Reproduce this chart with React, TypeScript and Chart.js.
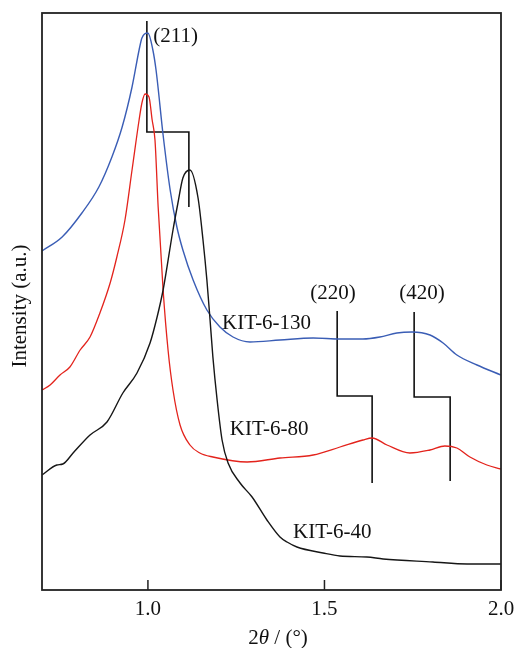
import { useEffect, useRef } from "react";
import { Chart, registerables } from "chart.js";
Chart.register(...registerables);

// 2θ (°) and intensity (a.u.) for each sample
const kit130X = [0.7, 0.757, 0.813, 0.861, 0.898, 0.927, 0.955, 0.975, 0.983, 1.0, 1.014, 1.023, 1.043, 1.063, 1.082, 1.099, 1.128, 1.167, 1.204, 1.241, 1.289, 1.374, 1.468, 1.544, 1.609, 1.657, 1.705, 1.748, 1.799, 1.836, 1.875, 1.932, 2.0];
const kit130Y = [339, 353, 377, 403, 433, 463, 503, 540, 552, 557, 540, 520, 455, 400, 363, 340, 310, 280, 263, 253, 248, 250, 252, 251, 251, 253, 257, 258, 255, 247, 235, 225, 215];

const kit80X = [0.7, 0.723, 0.751, 0.779, 0.808, 0.836, 0.864, 0.893, 0.912, 0.935, 0.955, 0.975, 0.983, 0.992, 1.003, 1.012, 1.02, 1.029, 1.043, 1.057, 1.071, 1.091, 1.119, 1.147, 1.184, 1.281, 1.374, 1.468, 1.544, 1.609, 1.635, 1.677, 1.742, 1.799, 1.841, 1.875, 1.912, 1.96, 2.0];
const kit80Y = [200, 205, 215, 223, 240, 253, 277, 307, 333, 370, 420, 470, 487, 496, 493, 470, 450, 383, 300, 240, 200, 165, 145, 137, 133, 128, 132, 135, 143, 150, 152, 145, 137, 140, 144, 142, 133, 125, 121];

const kit40X = [0.7, 0.742, 0.759, 0.788, 0.836, 0.884, 0.929, 0.969, 1.006, 1.026, 1.043, 1.071, 1.085, 1.099, 1.119, 1.142, 1.156, 1.167, 1.176, 1.184, 1.196, 1.21, 1.227, 1.261, 1.295, 1.337, 1.374, 1.394, 1.422, 1.496, 1.544, 1.62, 1.666, 1.807, 1.904, 2.0];
const kit40Y = [115, 125, 126, 137, 155, 168, 197, 217, 247, 273, 300, 360, 387, 412, 420, 392, 350, 310, 270, 233, 190, 150, 127, 107, 93, 70, 53, 48, 43, 37, 34, 33, 31, 28, 26, 26];

// reflection index markers: [x top, x bottom], [y top, y step, y bottom]
const peak211X = [0.997, 1.116];
const peak211Y = [569, 458, 383];
const peak220X = [1.536, 1.635];
const peak220Y = [279, 194, 107];
const peak420X = [1.754, 1.856];
const peak420Y = [278, 193, 109];

const xTicks = [1.0, 1.5, 2.0];
const xMin = 0.7;
const xMax = 2.0;

const FONT = '"Liberation Serif", "Times New Roman", serif';

function pts(xs: number[], ys: number[]) {
  return xs.map((x, i) => ({ x, y: ys[i] }));
}
function bracket(xs: number[], ys: number[]) {
  return [
    { x: xs[0], y: ys[0] },
    { x: xs[0], y: ys[1] },
    { x: xs[1], y: ys[1] },
    { x: xs[1], y: ys[2] },
  ];
}

export default function App() {
  const ref = useRef<HTMLCanvasElement | null>(null);
  useEffect(() => {
    if (!ref.current) return;
    const textLabels = [
      { t: "(211)", x: 1.015, y: 554, align: "left" },
      { t: "(220)", x: 1.524, y: 297, align: "center" },
      { t: "(420)", x: 1.776, y: 297, align: "center" },
      { t: "KIT-6-130", x: 1.21, y: 267, align: "left" },
      { t: "KIT-6-80", x: 1.232, y: 161, align: "left" },
      { t: "KIT-6-40", x: 1.411, y: 58, align: "left" },
    ];
    const deco = {
      id: "deco",
      afterDraw(chart: any) {
        const { ctx, chartArea: a, scales } = chart;
        const xs = scales.x;
        const ys = scales.y;
        ctx.save();
        ctx.strokeStyle = "#222";
        ctx.lineWidth = 1.8;
        ctx.strokeRect(a.left, a.top, a.right - a.left, a.bottom - a.top);
        ctx.lineWidth = 1.5;
        for (const v of xTicks) {
          const px = xs.getPixelForValue(v);
          ctx.beginPath();
          ctx.moveTo(px, a.bottom);
          ctx.lineTo(px, a.bottom - 10);
          ctx.stroke();
        }
        ctx.fillStyle = "#111";
        ctx.font = `21px ${FONT}`;
        ctx.textBaseline = "middle";
        for (const l of textLabels) {
          ctx.textAlign = l.align as CanvasTextAlign;
          ctx.fillText(l.t, xs.getPixelForValue(l.x), ys.getPixelForValue(l.y));
        }
        // x title: 2θ / (°)
        const cx = 278;
        const cy = 638;
        const p1 = "2";
        const p2 = "θ";
        const p3 = " / (°)";
        ctx.font = `21px ${FONT}`;
        const w1 = ctx.measureText(p1).width;
        const w3 = ctx.measureText(p3).width;
        ctx.font = `italic 21px ${FONT}`;
        const w2 = ctx.measureText(p2).width;
        let sx = cx - (w1 + w2 + w3) / 2;
        ctx.textAlign = "left";
        ctx.font = `21px ${FONT}`;
        ctx.fillText(p1, sx, cy);
        sx += w1;
        ctx.font = `italic 21px ${FONT}`;
        ctx.fillText(p2, sx, cy);
        sx += w2;
        ctx.font = `21px ${FONT}`;
        ctx.fillText(p3, sx, cy);
        // y title
        ctx.save();
        ctx.translate(20, 306);
        ctx.rotate(-Math.PI / 2);
        ctx.textAlign = "center";
        ctx.fillText("Intensity (a.u.)", 0, 0);
        ctx.restore();
        ctx.restore();
      },
    };
    const lineDs = (data: any[], color: string, w: number, smooth: boolean) => ({
      data,
      borderColor: color,
      borderWidth: w,
      pointRadius: 0,
      showLine: true,
      fill: false,
      cubicInterpolationMode: smooth ? "monotone" : "default",
      tension: smooth ? 0.4 : 0,
    });
    const chart = new Chart(ref.current, {
      type: "scatter",
      data: {
        datasets: [
          lineDs(pts(kit40X, kit40Y), "#161616", 1.4, true),
          lineDs(pts(kit80X, kit80Y), "#e3231c", 1.3, true),
          lineDs(pts(kit130X, kit130Y), "#3a5db5", 1.4, true),
          lineDs(bracket(peak211X, peak211Y), "#111", 1.6, false),
          lineDs(bracket(peak220X, peak220Y), "#111", 1.6, false),
          lineDs(bracket(peak420X, peak420Y), "#111", 1.6, false),
        ] as any,
      },
      options: {
        animation: false,
        responsive: false,
        layout: { padding: { left: 42, top: 13, right: 17, bottom: 0 } },
        plugins: { legend: { display: false }, tooltip: { enabled: false } },
        scales: {
          x: {
            type: "linear",
            min: xMin,
            max: xMax,
            grid: { display: false, drawTicks: false },
            border: { display: false },
            afterBuildTicks: (s: any) => {
              s.ticks = xTicks.map((v) => ({ value: v }));
            },
            afterFit: (s: any) => {
              s.height = 58;
              s.paddingLeft = 0;
              s.paddingRight = 0;
            },
            ticks: {
              padding: 7,
              color: "#111",
              font: { family: FONT, size: 21 },
              maxRotation: 0,
              callback: (v: any) => Number(v).toFixed(1),
            },
          },
          y: { display: false, min: 0, max: 577 },
        },
      } as any,
      plugins: [deco],
    });
    return () => chart.destroy();
  }, []);
  return (
    <div style={{ position: "absolute", left: 0, top: 0, width: 518, height: 648, background: "#fff" }}>
      <canvas ref={ref} width={518} height={648} style={{ display: "block" }} />
    </div>
  );
}
